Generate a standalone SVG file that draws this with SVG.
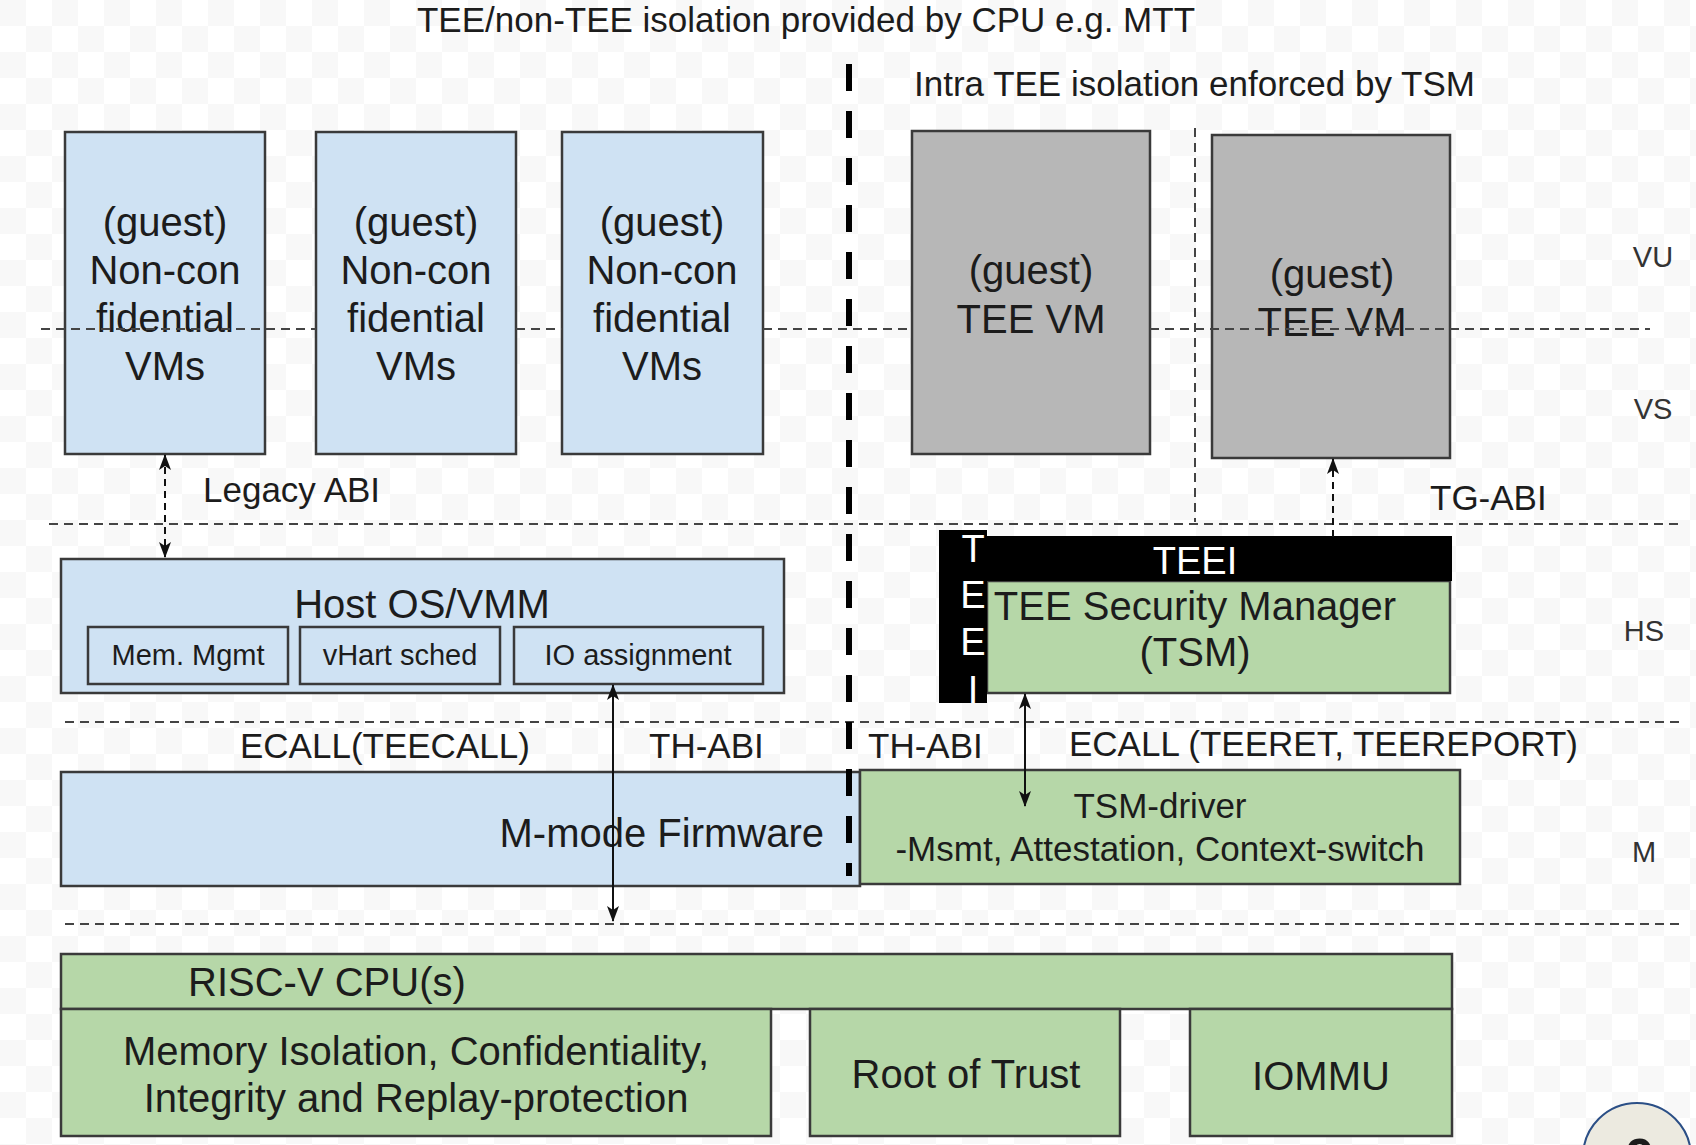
<svg xmlns="http://www.w3.org/2000/svg" width="1696" height="1145" viewBox="0 0 1696 1145">
  <defs>
    <pattern id="checker" width="52" height="52" patternUnits="userSpaceOnUse">
      <rect width="52" height="52" fill="#ffffff"/>
      <rect width="26" height="26" fill="#f8f8f8"/>
      <rect x="26" y="26" width="26" height="26" fill="#f8f8f8"/>
    </pattern>
    <marker id="ah" viewBox="0 0 16 12" refX="15" refY="6" markerWidth="16" markerHeight="12" markerUnits="userSpaceOnUse" orient="auto-start-reverse">
      <path d="M0,0 L16,6 L0,12 L4,6 z" fill="#111"/>
    </marker>
    <style>
      text { font-family: "Liberation Sans", Arial, sans-serif; fill: #1c1c1c; }
      .big { font-size: 40px; text-anchor: middle; }
      .big-l { font-size: 40px; text-anchor: start; }
      .big-r { font-size: 40px; text-anchor: end; }
      .mid { font-size: 35px; }
      .small { font-size: 29px; text-anchor: middle; }
      .lvl { font-size: 29px; fill: #333; text-anchor: middle; }
      .blue { fill: #cfe2f3; stroke: #3a3a3a; stroke-width: 2.5; }
      .green { fill: #b6d7a8; stroke: #3a3a3a; stroke-width: 2.5; }
      .gray { fill: #b7b7b7; stroke: #3a3a3a; stroke-width: 2.5; }
      .lvl-line { stroke: #444; stroke-width: 2; stroke-dasharray: 9 6; fill: none; }
      .split { stroke: #444; stroke-width: 2; stroke-dasharray: 9 6; fill: none; }
      .wall { stroke: #000; stroke-width: 6; stroke-dasharray: 27 20; fill: none; }
      .solid { stroke: #111; stroke-width: 2; fill: none; }
      .dash { stroke: #111; stroke-width: 2; stroke-dasharray: 7 5; fill: none; }
      .tee-white { font-size: 38px; text-anchor: middle; fill: #ffffff; }
    </style>
  </defs>

  <rect width="1696" height="1145" fill="url(#checker)"/>

  <!-- captions -->
  <text class="mid" x="806" y="32" style="text-anchor: middle">TEE/non-TEE isolation provided by CPU e.g. MTT</text>
  <text class="mid" x="914" y="96">Intra TEE isolation enforced by TSM</text>

  <!-- privilege level labels -->
  <text class="lvl" x="1653" y="267">VU</text>
  <text class="lvl" x="1653" y="419">VS</text>
  <text class="lvl" x="1644" y="641">HS</text>
  <text class="lvl" x="1644" y="862">M</text>

  <!-- level separators drawn beneath the boxes -->
  <line class="lvl-line" x1="49" y1="524" x2="1683" y2="524"/>
  <line class="lvl-line" x1="65" y1="722" x2="1683" y2="722"/>
  <line class="lvl-line" x1="65" y1="924" x2="1680" y2="924"/>
  <line class="split" x1="1195" y1="128" x2="1195" y2="522"/>

  <g id="ncvm1">
    <rect class="blue" x="65" y="132" width="200" height="322"/>
    <text class="big" x="165" y="236">(guest)</text>
    <text class="big" x="165" y="284">Non-con</text>
    <text class="big" x="165" y="332">fidential</text>
    <text class="big" x="165" y="380">VMs</text>
  </g>
  <g id="ncvm2">
    <rect class="blue" x="316" y="132" width="200" height="322"/>
    <text class="big" x="416" y="236">(guest)</text>
    <text class="big" x="416" y="284">Non-con</text>
    <text class="big" x="416" y="332">fidential</text>
    <text class="big" x="416" y="380">VMs</text>
  </g>
  <g id="ncvm3">
    <rect class="blue" x="562" y="132" width="201" height="322"/>
    <text class="big" x="662" y="236">(guest)</text>
    <text class="big" x="662" y="284">Non-con</text>
    <text class="big" x="662" y="332">fidential</text>
    <text class="big" x="662" y="380">VMs</text>
  </g>
  <g id="teevm1">
    <rect class="gray" x="912" y="131" width="238" height="323"/>
    <text class="big" x="1031" y="284">(guest)</text>
    <text class="big" x="1031" y="333">TEE VM</text>
  </g>
  <g id="teevm2">
    <rect class="gray" x="1212" y="135" width="238" height="323"/>
    <text class="big" x="1332" y="288">(guest)</text>
    <text class="big" x="1332" y="336">TEE VM</text>
  </g>

  <!-- VU/VS separator: passes over the outer VM boxes, behind the others -->
  <g id="vu-vs-line">
    <line class="lvl-line" x1="41" y1="329" x2="316" y2="329"/>
    <line class="lvl-line" x1="516" y1="329" x2="562" y2="329"/>
    <line class="lvl-line" x1="763" y1="329" x2="912" y2="329"/>
    <line class="lvl-line" x1="1150" y1="329" x2="1650" y2="329"/>
  </g>

  <g id="host">
    <rect class="blue" x="61" y="559" width="723" height="134"/>
    <text class="big" x="422" y="618">Host OS/VMM</text>
    <rect class="blue" x="88" y="627" width="200" height="57"/>
    <text class="small" x="188" y="665">Mem. Mgmt</text>
    <rect class="blue" x="300" y="627" width="200" height="57"/>
    <text class="small" x="400" y="665">vHart sched</text>
    <rect class="blue" x="514" y="627" width="249" height="57"/>
    <text class="small" x="638" y="665">IO assignment</text>
  </g>

  <g id="tsm">
    <rect class="green" x="987" y="581" width="463" height="112"/>
    <rect x="939" y="536" width="513" height="45" fill="#000"/>
    <rect x="939" y="530" width="48" height="173" fill="#000"/>
    <text class="tee-white" x="1195" y="574">TEEI</text>
    <text class="tee-white" x="973" y="562">T</text>
    <text class="tee-white" x="973" y="608">E</text>
    <text class="tee-white" x="973" y="655">E</text>
    <text class="tee-white" x="973" y="703">I</text>
    <text class="big" x="1195" y="620">TEE Security Manager</text>
    <text class="big" x="1195" y="666">(TSM)</text>
  </g>

  <g id="firmware">
    <rect class="blue" x="61" y="772" width="799" height="114"/>
    <text class="big-r" x="824" y="847">M-mode Firmware</text>
  </g>
  <g id="tsm-driver">
    <rect class="green" x="860" y="770" width="600" height="114"/>
    <text class="mid" x="1160" y="818" style="text-anchor: middle">TSM-driver</text>
    <text class="mid" x="1160" y="861" style="text-anchor: middle">-Msmt, Attestation, Context-switch</text>
  </g>

  <g id="cpu">
    <rect class="green" x="61" y="954" width="1391" height="55"/>
    <text class="big-l" x="188" y="996">RISC-V CPU(s)</text>
  </g>
  <g id="mem-protect">
    <rect class="green" x="61" y="1009" width="710" height="127"/>
    <text class="big" x="416" y="1065">Memory Isolation, Confidentiality,</text>
    <text class="big" x="416" y="1112">Integrity and Replay-protection</text>
  </g>
  <g id="rot">
    <rect class="green" x="810" y="1009" width="310" height="127"/>
    <text class="big" x="966" y="1088">Root of Trust</text>
  </g>
  <g id="iommu">
    <rect class="green" x="1190" y="1009" width="262" height="127"/>
    <text class="big" x="1321" y="1090">IOMMU</text>
  </g>

  <!-- TEE / non-TEE boundary -->
  <line class="wall" x1="849" y1="64" x2="849" y2="876"/>

  <g id="connectors">
    <line class="dash" x1="165" y1="455" x2="165" y2="557" marker-start="url(#ah)" marker-end="url(#ah)"/>
    <line class="dash" x1="1333" y1="537" x2="1333" y2="459" marker-end="url(#ah)"/>
    <line class="solid" x1="613" y1="685" x2="613" y2="921" marker-start="url(#ah)" marker-end="url(#ah)"/>
    <line class="solid" x1="1025" y1="694" x2="1025" y2="806" marker-start="url(#ah)" marker-end="url(#ah)"/>
    <text class="mid" x="203" y="502">Legacy ABI</text>
    <text class="mid" x="1430" y="510">TG-ABI</text>
    <text class="mid" x="240" y="758">ECALL(TEECALL)</text>
    <text class="mid" x="649" y="758">TH-ABI</text>
    <text class="mid" x="868" y="758">TH-ABI</text>
    <text class="mid" x="1069" y="756">ECALL (TEERET, TEEREPORT)</text>
  </g>

  <!-- page badge -->
  <g id="page-badge">
    <circle cx="1637" cy="1157" r="54" fill="#eceae0" stroke="#2b4f86" stroke-width="2"/>
    <text x="1640" y="1174" font-size="50" font-weight="bold" text-anchor="middle" fill="#000">9</text>
  </g>
</svg>
